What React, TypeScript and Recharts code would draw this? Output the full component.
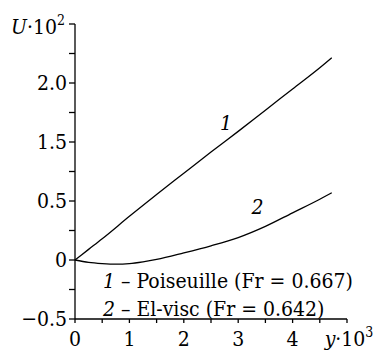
import { LineChart, Line, XAxis, YAxis, LabelList } from 'recharts'

// curve 1: Poiseuille
const nu1 = [0, 0.25, 0.5, 1, 1.5, 2, 2.5, 3, 3.5, 4, 4.5, 4.72]
const u1 = [0, 0.09, 0.18, 0.37, 0.555, 0.735, 0.915, 1.09, 1.27, 1.45, 1.63, 1.715]

// curve 2: El-visc
const nu2 = [0, 0.25, 0.5, 0.75, 1, 1.25, 1.5, 2, 2.5, 3, 3.5, 4, 4.5, 4.72]
const u2 = [0, -0.02, -0.03, -0.035, -0.03, -0.015, 0.005, 0.06, 0.12, 0.19, 0.285, 0.4, 0.515, 0.57]

const xTicks = [0, 0.5, 1, 1.5, 2, 2.5, 3, 3.5, 4, 4.5, 5]
const xTickLabels = ['0', '1', '2', '3', '4']
const yTicks = [-0.5, -0.25, 0, 0.25, 0.5, 0.75, 1, 1.25, 1.5, 1.75, 2]
const yTickValues = [-0.5, 0, 0.5, 1, 1.5]
const yTickLabels = ['\u22120.5', '0', '0.5', '1.5', '2.0']

const series1 = nu1.map((x, i) => ({ x, u: u1[i] }))
const series2 = nu2.map((x, i) => ({ x, u: u2[i] }))

const font = '"DejaVu Serif Condensed", "DejaVu Serif", serif'
const fs = 21
const txt = { fontFamily: font, fontSize: fs, fontStretch: 'condensed' }

function XTick({ x, y, payload }: any) {
  const v = payload.value
  if (v === 5) {
    return (
      <text x={x + 2} y={y} dy="0.71em" textAnchor="middle" style={txt} fill="#000">
        <tspan fontStyle="italic">y</tspan>
        <tspan>·10</tspan>
        <tspan style={{ fontSize: 14 }} dy={-9}>3</tspan>
      </text>
    )
  }
  if (!Number.isInteger(v)) return null
  return (
    <text x={x} y={y} dy="0.71em" textAnchor="middle" style={txt} fill="#000">
      {xTickLabels[v]}
    </text>
  )
}

function YTick({ x, y, payload }: any) {
  const v = payload.value
  if (v === 2) {
    return (
      <text x={x - 2} y={y + 10} textAnchor="end" style={txt} fill="#000">
        <tspan fontStyle="italic">U</tspan>
        <tspan>·10</tspan>
        <tspan style={{ fontSize: 14 }} dy={-9}>2</tspan>
      </text>
    )
  }
  const i = yTickValues.indexOf(v)
  if (i < 0) return null
  return (
    <text x={x} y={y} dy="0.355em" textAnchor="end" style={txt} fill="#000">
      {yTickLabels[i]}
    </text>
  )
}

const curveLabel = (idx: number, text: string, dx: number, dy: number) => (props: any) => {
  if (props.index !== idx) return null
  return (
    <text x={props.x + dx} y={props.y + dy} textAnchor="middle" style={{ ...txt, fontStyle: 'italic' }} fill="#000">
      {text}
    </text>
  )
}

export default function App() {
  return (
    <div style={{ position: 'absolute', left: 0, top: 0, width: 374, height: 350, background: '#fff' }}>
      <LineChart width={374} height={350} margin={{ top: 24, right: 27, left: 0, bottom: 0 }}>
        <XAxis
          type="number"
          dataKey="x"
          domain={[0, 5]}
          ticks={xTicks}
          interval={0}
          height={31}
          tickSize={4}
          tickMargin={8}
          tick={<XTick />}
          axisLine={{ stroke: '#000', strokeWidth: 1.3 }}
          tickLine={{ stroke: '#000', strokeWidth: 1.3 }}
        />
        <YAxis
          type="number"
          domain={[-0.5, 2]}
          ticks={yTicks}
          interval={0}
          width={75}
          tickSize={6}
          tickMargin={2}
          tick={<YTick />}
          axisLine={{ stroke: '#000', strokeWidth: 1.3 }}
          tickLine={{ stroke: '#000', strokeWidth: 1.3 }}
        />
        <Line
          data={series1}
          dataKey="u"
          type="monotone"
          stroke="#000"
          strokeWidth={1.3}
          dot={false}
          isAnimationActive={false}
        >
          <LabelList content={curveLabel(6, '1', 15, -22)} />
        </Line>
        <Line
          data={series2}
          dataKey="u"
          type="monotone"
          stroke="#000"
          strokeWidth={1.3}
          dot={false}
          isAnimationActive={false}
        >
          <LabelList content={curveLabel(10, '2', -8, -12)} />
        </Line>
      </LineChart>
      <div
        style={{
          position: 'absolute',
          left: 103,
          top: 267,
          fontFamily: font,
          fontStretch: 'condensed',
          fontSize: fs,
          lineHeight: '28px',
          color: '#000',
          whiteSpace: 'nowrap',
        }}
      >
        <div><i>1</i> – Poiseuille (Fr = 0.667)</div>
        <div><i>2</i> – El-visc (Fr = 0.642)</div>
      </div>
    </div>
  )
}
